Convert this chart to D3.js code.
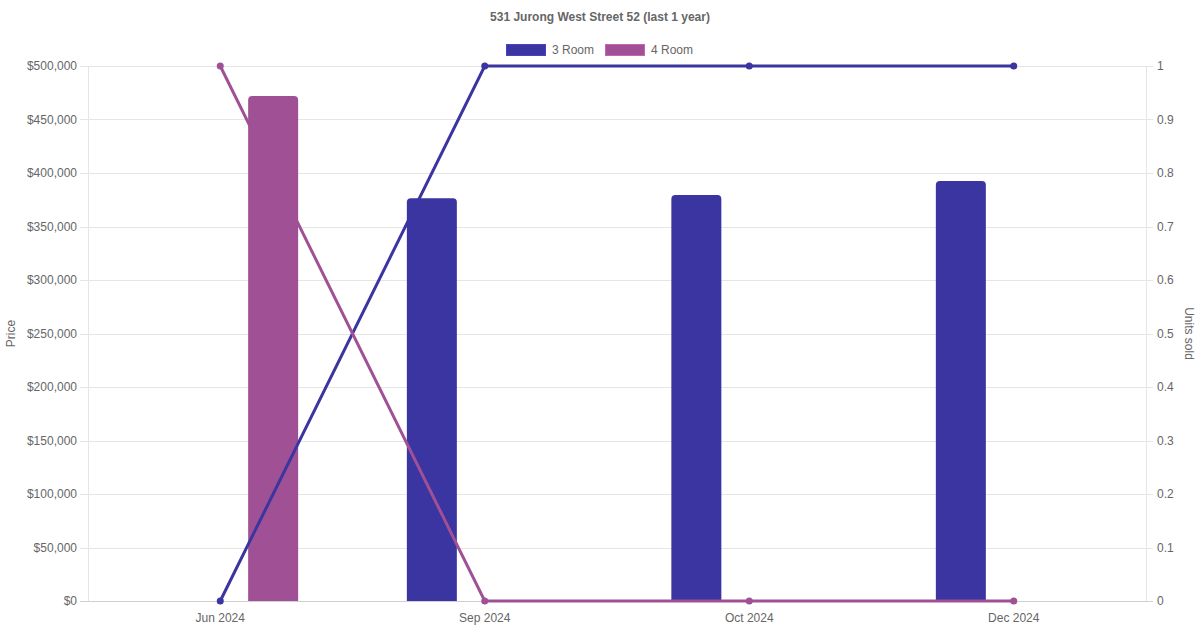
<!DOCTYPE html>
<html>
<head>
<meta charset="utf-8">
<script src="https://cdn.jsdelivr.net/npm/d3@7"></script>
<style>
  body { margin: 0; background: #fff; }
  svg text { font-family: "Liberation Sans", Arial, sans-serif; fill: #666; }
</style>
</head>
<body>
<div id="chart"></div>
<script>
// chart data
var months = ["Jun 2024", "Sep 2024", "Oct 2024", "Dec 2024"];
var seriesNames = ["3 Room", "4 Room"];
var seriesColors = ["#3a35a0", "#a05195"];
var price3Room = [null, 376500, 379500, 392500];
var price4Room = [472000, null, null, null];
var units3Room = [0, 1, 1, 1];
var units4Room = [1, 0, 0, 0];
var priceTicks = [0, 50000, 100000, 150000, 200000, 250000, 300000, 350000, 400000, 450000, 500000];
var unitTicks = [0, 0.1, 0.2, 0.3, 0.4, 0.5, 0.6, 0.7, 0.8, 0.9, 1];

var svgWidth = 1200;
var svgHeight = 630;
var margin = { top: 66, right: 54, bottom: 29, left: 88 };
var width = svgWidth - margin.left - margin.right;
var height = svgHeight - margin.top - margin.bottom;

var svg = d3.select("#chart")
  .append("svg")
  .attr("width", svgWidth)
  .attr("height", svgHeight);

var chartGroup = svg.append("g")
  .attr("transform", `translate(${margin.left}, ${margin.top})`);

// scales
var xScale = d3.scaleBand().domain(months).range([0, width]);
var yPrice = d3.scaleLinear().domain([0, 500000]).range([height, 0]);
var yUnits = d3.scaleLinear().domain([0, 1]).range([height, 0]);
var groupScale = d3.scaleBand()
  .domain(seriesNames)
  .range([xScale.bandwidth() * 0.1, xScale.bandwidth() * 0.9]);
var barWidth = Math.min(50, groupScale.bandwidth() * 0.9);

// horizontal grid lines
chartGroup.append("g")
  .selectAll("line")
  .data(priceTicks)
  .enter()
  .append("line")
  .attr("x1", -8)
  .attr("x2", width + 7)
  .attr("y1", d => Math.round(yPrice(d)) + 0.5)
  .attr("y2", d => Math.round(yPrice(d)) + 0.5)
  .attr("stroke", d => d === 0 ? "#d0d0d0" : "#e5e5e5");

// left and right borders
chartGroup.append("line")
  .attr("x1", 0.5).attr("x2", 0.5)
  .attr("y1", 0).attr("y2", height)
  .attr("stroke", "#e5e5e5");
chartGroup.append("line")
  .attr("x1", width + 0.5).attr("x2", width + 0.5)
  .attr("y1", 0).attr("y2", height)
  .attr("stroke", "#e5e5e5");

// left axis
var leftAxis = d3.axisLeft(yPrice)
  .tickValues(priceTicks)
  .tickSize(0)
  .tickPadding(11)
  .tickFormat(d => "$" + d3.format(",")(d));
var gLeft = chartGroup.append("g").call(leftAxis);
gLeft.select(".domain").remove();
gLeft.selectAll("text").style("font-size", "12px").attr("fill", "#666");

// right axis
var rightAxis = d3.axisRight(yUnits)
  .tickValues(unitTicks)
  .tickSize(0)
  .tickPadding(11)
  .tickFormat(d => d3.format("~g")(d));
var gRight = chartGroup.append("g")
  .attr("transform", `translate(${width}, 0)`)
  .call(rightAxis);
gRight.select(".domain").remove();
gRight.selectAll("text").style("font-size", "12px").attr("fill", "#666");

// bottom axis
var bottomAxis = d3.axisBottom(xScale).tickSize(0).tickPadding(12);
var gBottom = chartGroup.append("g")
  .attr("transform", `translate(0, ${height})`)
  .call(bottomAxis);
gBottom.select(".domain").remove();
gBottom.selectAll("text").style("font-size", "12px").attr("fill", "#666");

// bars
var priceSeries = [price3Room, price4Room];
priceSeries.forEach(function(values, i) {
  var name = seriesNames[i];
  chartGroup.append("g")
    .selectAll("path")
    .data(months.map((m, j) => ({ month: m, value: values[j] })).filter(d => d.value != null))
    .enter()
    .append("path")
    .attr("d", function(d) {
      var cx = xScale(d.month) + groupScale(name) + groupScale.bandwidth() / 2;
      var x0 = cx - barWidth / 2;
      var x1 = cx + barWidth / 2;
      var y0 = yPrice(d.value);
      var y1 = yPrice(0);
      var r = 4;
      return `M${x0},${y1}L${x0},${y0 + r}Q${x0},${y0} ${x0 + r},${y0}` +
        `L${x1 - r},${y0}Q${x1},${y0} ${x1},${y0 + r}L${x1},${y1}Z`;
    })
    .attr("fill", seriesColors[i]);
});

// lines
var unitSeries = [units3Room, units4Room];
unitSeries.forEach(function(values, i) {
  var pts = months.map((m, j) => ({ month: m, value: values[j] }));
  var line = d3.line()
    .x(d => xScale(d.month) + xScale.bandwidth() / 2)
    .y(d => yUnits(d.value));
  chartGroup.append("path")
    .datum(pts)
    .attr("d", line)
    .attr("fill", "none")
    .attr("stroke", seriesColors[i])
    .attr("stroke-width", 3);
  chartGroup.append("g")
    .selectAll("circle")
    .data(pts)
    .enter()
    .append("circle")
    .attr("cx", d => xScale(d.month) + xScale.bandwidth() / 2)
    .attr("cy", d => yUnits(d.value))
    .attr("r", 3.5)
    .attr("fill", seriesColors[i]);
});

// title
svg.append("text")
  .attr("x", svgWidth / 2)
  .attr("y", 21)
  .attr("text-anchor", "middle")
  .style("font-size", "12px")
  .style("font-weight", "bold")
  .text("531 Jurong West Street 52 (last 1 year)");

// legend
var legendX = [506, 605];
seriesNames.forEach(function(name, i) {
  svg.append("rect")
    .attr("x", legendX[i] + 0.5)
    .attr("y", 44.5)
    .attr("width", 39)
    .attr("height", 11)
    .attr("fill", seriesColors[i])
    .attr("stroke", d3.color(seriesColors[i]).brighter(0.6))
    .attr("stroke-width", 1);
  svg.append("text")
    .attr("x", legendX[i] + 46)
    .attr("y", 54)
    .style("font-size", "12px")
    .text(name);
});

// axis titles
svg.append("text")
  .attr("transform", `translate(15, ${margin.top + height / 2}) rotate(-90)`)
  .attr("text-anchor", "middle")
  .style("font-size", "12px")
  .text("Price");

svg.append("text")
  .attr("transform", `translate(1185, ${margin.top + height / 2}) rotate(90)`)
  .attr("text-anchor", "middle")
  .style("font-size", "12px")
  .text("Units sold");
</script>
</body>
</html>
